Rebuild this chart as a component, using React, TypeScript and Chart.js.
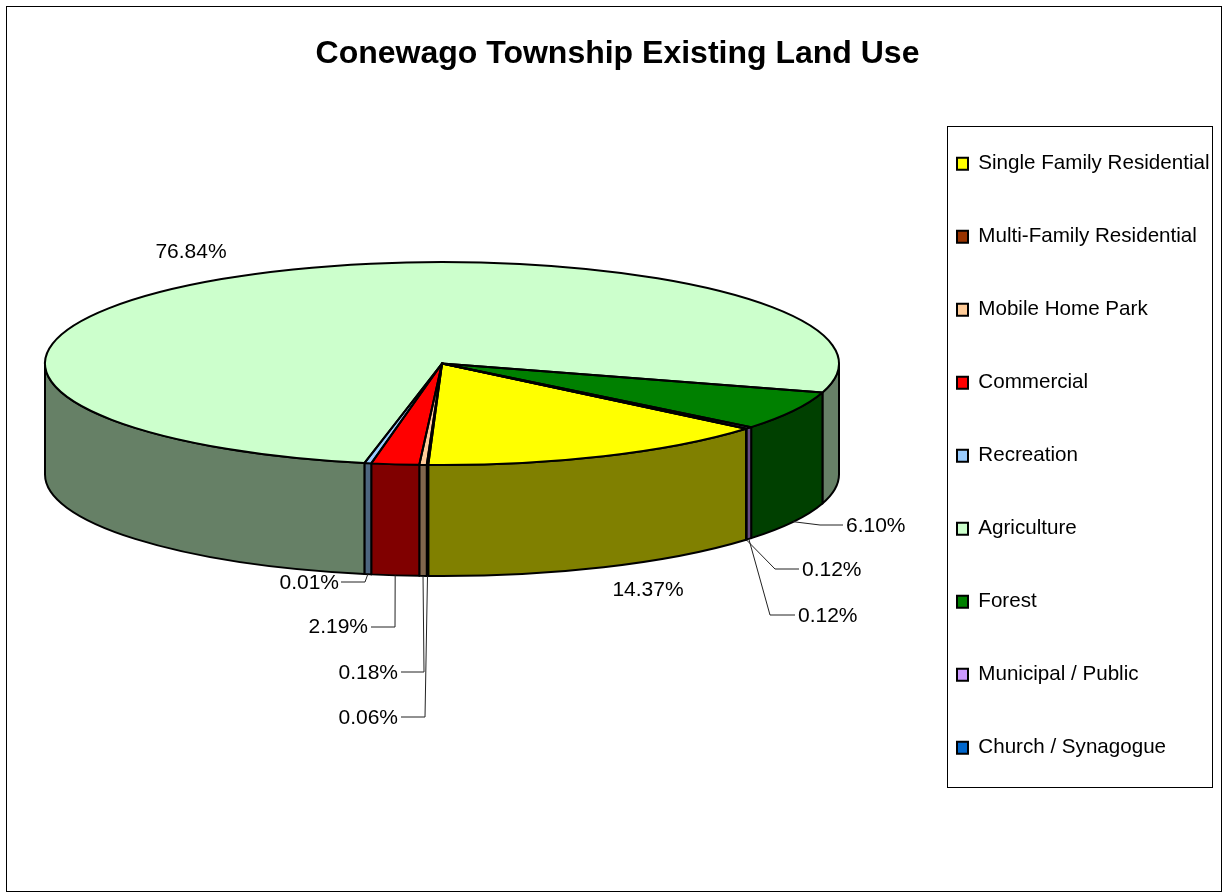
import React, { useEffect, useRef } from "react";
import { Chart, registerables } from "chart.js";

Chart.register(...registerables);

const categories = [
  "Single Family Residential",
  "Multi-Family Residential",
  "Mobile Home Park",
  "Commercial",
  "Recreation",
  "Agriculture",
  "Forest",
  "Municipal / Public",
  "Church / Synagogue",
];
// Slice sizes as they appear in the picture (thin slices are drawn wider than their printed share).
const sliceShares = [14.44, 0.06, 0.3, 1.94, 0.28, 76.48, 6.18, 0.3, 0.02];
// Percentages printed next to the slices.
const printedLabels = ["14.37%", "0.06%", "0.18%", "2.19%", "0.01%", "76.84%", "6.10%", "0.12%", "0.12%"];
const sliceColors = ["#FFFF00", "#993300", "#FFCC99", "#FF0000", "#99CCFF", "#CCFFCC", "#008000", "#CC99FF", "#0066CC"];

const FONT = "'Liberation Sans', Arial, sans-serif";
const PIE = { x: 442, y: 363.5, rx: 397, ry: 101.5, depth: 111 };
const ROTATION = 130;
const LEGEND_BOX = { l: 947, t: 126, r: 1212, b: 787 };
const LABEL_SIZE = 21;
const LEGEND_SIZE = 20.6;
const LEGEND_GAP = 73 - LEGEND_SIZE;

type Placement = { x: number; y: number; align: CanvasTextAlign; elbow?: [number, number]; tail?: [number, number] };
const labelPlacement: Placement[] = [
  { x: 648, y: 590, align: "center" },
  { x: 398, y: 718, align: "right", elbow: [425, 717], tail: [401, 717] },
  { x: 398, y: 673, align: "right", elbow: [424, 672], tail: [401, 672] },
  { x: 368, y: 627, align: "right", elbow: [395, 627], tail: [371, 627] },
  { x: 339, y: 583, align: "right", elbow: [365, 582], tail: [341, 582] },
  { x: 191, y: 252, align: "center" },
  { x: 846, y: 526, align: "left", elbow: [820, 525], tail: [843, 525] },
  { x: 798, y: 616, align: "left", elbow: [770, 615], tail: [795, 615] },
  { x: 802, y: 570, align: "left", elbow: [775, 569], tail: [799, 569] },
];

const halve = (hex: string) => {
  const n = parseInt(hex.slice(1), 16);
  const c = [(n >> 16) & 255, (n >> 8) & 255, n & 255].map((v) => Math.round(v / 2));
  return `rgb(${c[0]},${c[1]},${c[2]})`;
};

const rimPoint = (a: number, drop = 0): [number, number] => [
  PIE.x + PIE.rx * Math.cos(a),
  PIE.y + PIE.ry * Math.sin(a) + drop,
];

const pie3d = {
  id: "pie3d",
  beforeDraw(chart: any) {
    const { ctx } = chart;
    ctx.save();
    ctx.fillStyle = "#fff";
    ctx.fillRect(0, 0, chart.width, chart.height);
    ctx.strokeStyle = "#000";
    ctx.lineWidth = 1;
    ctx.strokeRect(6.5, 6.5, 1215, 885);
    ctx.strokeRect(LEGEND_BOX.l + 0.5, LEGEND_BOX.t + 0.5, LEGEND_BOX.r - LEGEND_BOX.l, LEGEND_BOX.b - LEGEND_BOX.t);
    ctx.restore();
  },
  afterLayout(chart: any) {
    const lg = chart.legend;
    lg.left = LEGEND_BOX.l + 10 - LEGEND_GAP;
    lg.right = LEGEND_BOX.r;
    lg.top = 163.7 - LEGEND_SIZE / 2 - LEGEND_GAP;
    lg.bottom = chart.height;
    lg.width = lg.right - lg.left;
    lg.height = lg.bottom - lg.top;
  },
  beforeDatasetsDraw(chart: any) {
    const { ctx } = chart;
    const arcs = chart.getDatasetMeta(0).data;
    // side wall, from the arc elements' own angles
    ctx.save();
    ctx.lineWidth = 2;
    ctx.strokeStyle = "#000";
    ctx.lineJoin = "round";
    arcs.forEach((arc: any, i: number) => {
      for (const shift of [-2 * Math.PI, 0, 2 * Math.PI]) {
        const s = Math.max(arc.startAngle + shift, 0);
        const e = Math.min(arc.endAngle + shift, Math.PI);
        if (e <= s) continue;
        ctx.beginPath();
        ctx.ellipse(PIE.x, PIE.y, PIE.rx, PIE.ry, 0, s, e);
        ctx.ellipse(PIE.x, PIE.y + PIE.depth, PIE.rx, PIE.ry, 0, e, s, true);
        ctx.closePath();
        ctx.fillStyle = halve(sliceColors[i]);
        ctx.fill();
        ctx.stroke();
      }
    });
    ctx.restore();
    // flatten the real pie
    const a0 = arcs[0];
    ctx.save();
    ctx.translate(PIE.x, PIE.y);
    ctx.scale(1, PIE.ry / PIE.rx);
    ctx.translate(-a0.x, -a0.y);
  },
  afterDatasetsDraw(chart: any) {
    const { ctx } = chart;
    ctx.restore();
    const arcs = chart.getDatasetMeta(0).data;
    ctx.save();
    ctx.strokeStyle = "#000";
    ctx.lineWidth = 2;
    ctx.lineJoin = "round";
    arcs.forEach((arc: any) => {
      ctx.beginPath();
      ctx.moveTo(PIE.x, PIE.y);
      ctx.ellipse(PIE.x, PIE.y, PIE.rx, PIE.ry, 0, arc.startAngle, arc.endAngle);
      ctx.closePath();
      ctx.stroke();
    });
    ctx.font = `${LABEL_SIZE}px ${FONT}`;
    ctx.fillStyle = "#000";
    ctx.textBaseline = "middle";
    arcs.forEach((arc: any, i: number) => {
      const p = labelPlacement[i];
      if (p.elbow && p.tail) {
        const [ax, ay] = rimPoint((arc.startAngle + arc.endAngle) / 2, PIE.depth);
        ctx.beginPath();
        ctx.moveTo(ax, ay);
        ctx.lineTo(p.elbow[0], p.elbow[1]);
        ctx.lineTo(p.tail[0], p.tail[1]);
        ctx.lineWidth = 1;
        ctx.strokeStyle = "#222";
        ctx.stroke();
      }
      ctx.textAlign = p.align;
      ctx.fillText(printedLabels[i], p.x, p.y);
    });
    ctx.restore();
  },
};

export default function App() {
  const ref = useRef<HTMLCanvasElement>(null);
  useEffect(() => {
    const chart = new Chart(ref.current as HTMLCanvasElement, {
      type: "pie",
      data: {
        labels: categories,
        datasets: [
          {
            data: sliceShares,
            backgroundColor: sliceColors,
            borderWidth: 0,
            radius: PIE.rx,
            clip: false,
          } as any,
        ],
      },
      options: {
        animation: false,
        responsive: false,
        devicePixelRatio: 1,
        rotation: ROTATION,
        layout: { padding: { left: 8 } },
        plugins: {
          tooltip: { enabled: false },
          title: {
            display: true,
            text: "Conewago Township Existing Land Use",
            color: "#000",
            font: { family: FONT, size: 32, weight: "bold" },
            padding: { top: 35, bottom: 10 },
          },
          legend: {
            position: "right",
            align: "start",
            labels: {
              color: "#000",
              font: { family: FONT, size: LEGEND_SIZE },
              boxWidth: 11,
              boxHeight: 12,
              padding: LEGEND_GAP,
              generateLabels(chart: any) {
                const items = Chart.overrides.pie.plugins.legend.labels.generateLabels(chart);
                return items.map((it: any) => ({ ...it, strokeStyle: "#000", lineWidth: 2 }));
              },
            },
          },
        },
      } as any,
      plugins: [pie3d],
    });
    return () => chart.destroy();
  }, []);
  return (
    <div style={{ position: "fixed", left: 0, top: 0, width: 1227, height: 893, background: "#fff" }}>
      <canvas ref={ref} width={1227} height={893} style={{ display: "block", width: 1227, height: 893 }} />
    </div>
  );
}
